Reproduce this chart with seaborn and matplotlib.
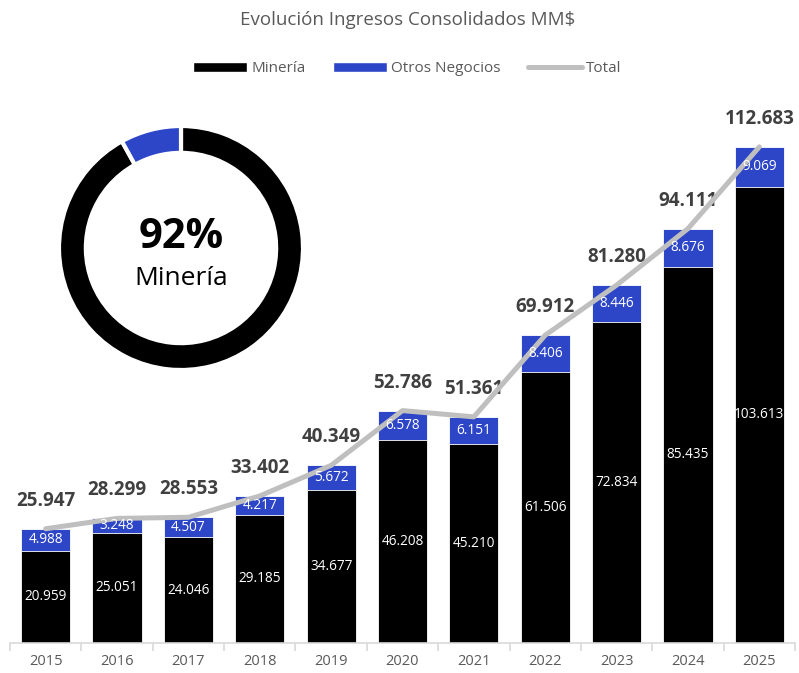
import numpy as np
import pandas as pd
import matplotlib.pyplot as plt
import seaborn as sns
from matplotlib.patches import Patch
from matplotlib.lines import Line2D

# Datos (MM$)
anios = ["2015", "2016", "2017", "2018", "2019", "2020", "2021", "2022", "2023", "2024", "2025"]
mineria = [20959, 25051, 24046, 29185, 34677, 46208, 45210, 61506, 72834, 85435, 103613]
otros = [4988, 3248, 4507, 4217, 5672, 6578, 6151, 8406, 8446, 8676, 9069]
total = [25947, 28299, 28553, 33402, 40349, 52786, 51361, 69912, 81280, 94111, 112683]

negro = "#000000"
azul = "#2D46C8"
gris = "#BFBFBF"
texto = "#595959"

df = pd.DataFrame({"anio": anios, "Minería": mineria, "Otros": otros, "Total": total})

sns.set_style("white")
plt.rcParams["font.family"] = ["Open Sans", "DejaVu Sans"]

fig = plt.figure(figsize=(7.99, 6.73), dpi=100)
ax = fig.add_axes([10 / 799, 30 / 673, 785 / 799, 553 / 673])

# Barras apiladas: primero el total (azul), encima minería (negro)
sns.barplot(data=df, x="anio", y="Total", color=azul, width=0.69, ax=ax,
            saturation=1, edgecolor="white", linewidth=0.6)
sns.barplot(data=df, x="anio", y="Minería", color=negro, width=0.69, ax=ax,
            saturation=1, edgecolor="white", linewidth=0.6)

x = np.arange(len(anios))
ax.plot(x, total, color=gris, lw=3.6, solid_capstyle="round", zorder=5)

def fmt(v):
    return f"{v:,}".replace(",", ".")

for i in range(len(anios)):
    ax.text(i, mineria[i] / 2, fmt(mineria[i]), ha="center", va="center",
            color="white", fontsize=9.8, zorder=6)
    ax.text(i, mineria[i] + otros[i] / 2, fmt(otros[i]), ha="center", va="center",
            color="white", fontsize=9.8, zorder=6)
    ax.annotate(fmt(total[i]), (i, total[i]), xytext=(0, 28), textcoords="offset pixels",
                ha="center", va="center", fontsize=13.5, fontweight="bold", color="#404040")

ax.set_xlim(-0.5, len(anios) - 0.5)
ax.set_ylim(0, 125600)
ax.set_xlabel("")
ax.set_ylabel("")
ax.set_yticks([])
for s in ["top", "right", "left"]:
    ax.spines[s].set_visible(False)
ax.spines["bottom"].set_color("#D9D9D9")
ax.spines["bottom"].set_linewidth(1.2)
ax.set_xticks(np.arange(-0.5, len(anios)), minor=True)
ax.tick_params(axis="x", which="major", bottom=False, length=0, labelsize=10.5,
               labelcolor=texto, pad=8)
ax.tick_params(axis="x", which="minor", bottom=True, direction="out", length=6,
               width=1.2, color="#D9D9D9")

# Dona con participación de minería en 2025
cx, cy, r = 181, 248, 122
axd = fig.add_axes([(cx - r) / 799, 1 - (cy + r) / 673, 2 * r / 799, 2 * r / 673])
axd.pie([mineria[-1], otros[-1]], colors=[negro, azul], startangle=90, counterclock=False,
        radius=1, wedgeprops=dict(width=0.22, edgecolor="white", linewidth=3))
axd.set_xlim(-1, 1)
axd.set_ylim(-1, 1)
pct = round(mineria[-1] / total[-1] * 100)
axd.text(0, 0.09, f"{pct}%", ha="center", va="center", fontsize=30, fontweight="bold", color="black")
axd.text(0, -0.25, "Minería", ha="center", va="center", fontsize=19, color="black")

fig.text(0.51, 1 - 20 / 673, "Evolución Ingresos Consolidados MM$", ha="center", va="center",
         fontsize=13.5, color=texto)

handles = [Patch(facecolor=negro, label="Minería"),
           Patch(facecolor=azul, label="Otros Negocios"),
           Line2D([0], [0], color=gris, lw=3.6, label="Total")]
leg = fig.legend(handles=handles, loc="center", bbox_to_anchor=(0.51, 1 - 69 / 673), ncol=3,
                 frameon=False, fontsize=11, handlelength=3.5, handleheight=0.55,
                 handletextpad=0.3, columnspacing=1.8)
for t in leg.get_texts():
    t.set_color(texto)

plt.savefig("out.png", dpi=100)
